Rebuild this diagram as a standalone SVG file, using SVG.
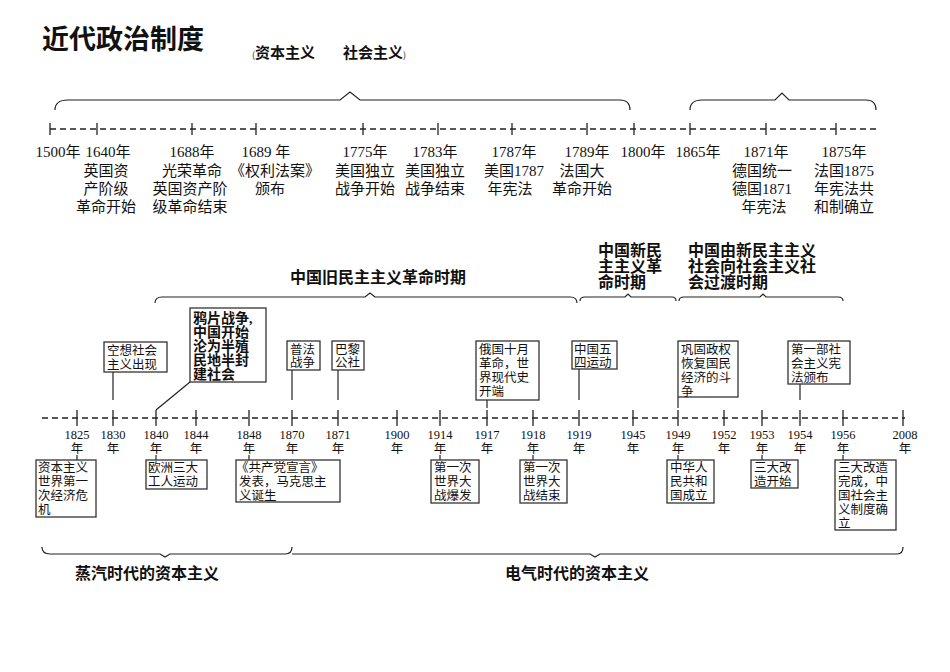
<svg xmlns="http://www.w3.org/2000/svg" width="950" height="672" viewBox="0 0 950 672">
<style>
text{font-family:"Liberation Serif","Noto Sans CJK SC",serif;fill:#111}
.t{font-size:15px}
.s{font-size:12.5px}
.m{font-size:16px;font-weight:bold}
.ax{stroke:#222;stroke-width:1.3;stroke-dasharray:6,4;fill:none}
.tk{stroke:#222;stroke-width:1.3}
.ln{stroke:#222;stroke-width:1.2;fill:none}
.bx{fill:#fff;stroke:#333;stroke-width:1.3}
</style>
<rect width="950" height="672" fill="#fff"/>
<text x="42" y="49" style="font-family:'Noto Sans CJK SC',sans-serif;font-size:27px;font-weight:bold">近代政治制度</text>
<text x="252" y="58" style="font-family:'Noto Sans CJK SC',sans-serif;font-size:15px;font-weight:bold"><tspan font-size="9px" font-weight="normal">(</tspan>资本主义<tspan dx="28">社会主义</tspan><tspan font-size="9px" font-weight="normal">)</tspan></text>
<g id="connectors">
<path class="ln" d="M55,110 Q55,100 68,100 L340,100 L350,92 L360,100 L620,100 Q630,100 630,110"/>
<path class="ln" d="M690,110 Q690,100 702,100 L775,100 L782,93 L789,100 L866,100 Q876,100 876,110"/>
<line class="ax" x1="50" y1="129" x2="876" y2="129"/>
<g class="tk"><line x1="50" y1="123" x2="50" y2="135"/><line x1="97" y1="123" x2="97" y2="135"/><line x1="192" y1="123" x2="192" y2="135"/><line x1="256" y1="123" x2="256" y2="135"/><line x1="363" y1="123" x2="363" y2="135"/><line x1="438" y1="123" x2="438" y2="135"/><line x1="512" y1="123" x2="512" y2="135"/><line x1="587" y1="123" x2="587" y2="135"/><line x1="634" y1="123" x2="634" y2="135"/><line x1="690" y1="123" x2="690" y2="135"/><line x1="766" y1="123" x2="766" y2="135"/><line x1="836" y1="123" x2="836" y2="135"/></g>
<path class="ln" d="M155,303 Q155,297 162,297 L365,297 L370,293 L375,297 L570,297 Q577,297 577,303"/>
<path class="ln" d="M580,301 Q580,297 585,297 L625,297 L628,294 L631,297 L672,297 Q676,297 676,301"/>
<path class="ln" d="M679,301 Q679,297 684,297 L760,297 L763,294 L766,297 L838,297 Q843,297 843,301"/>
<line class="ax" x1="42" y1="418" x2="905" y2="418"/>
<g class="tk"><line x1="77" y1="410" x2="77" y2="426"/><line x1="113" y1="410" x2="113" y2="426"/><line x1="156" y1="410" x2="156" y2="426"/><line x1="196" y1="410" x2="196" y2="426"/><line x1="249" y1="410" x2="249" y2="426"/><line x1="292" y1="410" x2="292" y2="426"/><line x1="338" y1="410" x2="338" y2="426"/><line x1="397" y1="410" x2="397" y2="426"/><line x1="440" y1="410" x2="440" y2="426"/><line x1="487" y1="410" x2="487" y2="426"/><line x1="533" y1="410" x2="533" y2="426"/><line x1="579" y1="410" x2="579" y2="426"/><line x1="633" y1="410" x2="633" y2="426"/><line x1="678" y1="410" x2="678" y2="426"/><line x1="724" y1="410" x2="724" y2="426"/><line x1="762" y1="410" x2="762" y2="426"/><line x1="800" y1="410" x2="800" y2="426"/><line x1="843" y1="410" x2="843" y2="426"/><line x1="903" y1="410" x2="903" y2="426"/></g>
<line class="ln" x1="113" y1="372" x2="113" y2="400"/>
<line class="ln" x1="190" y1="382" x2="156" y2="410"/>
<line class="ln" x1="292" y1="370" x2="292" y2="400"/>
<line class="ln" x1="338" y1="370" x2="338" y2="400"/>
<line class="ln" x1="487" y1="400" x2="487" y2="408"/>
<line class="ln" x1="579" y1="369" x2="579" y2="400"/>
<line class="ln" x1="678" y1="397" x2="678" y2="408"/>
<line class="ln" x1="800" y1="384" x2="800" y2="400"/>
<g class="ln"><line x1="77" y1="455" x2="77" y2="460"/><line x1="156" y1="455" x2="156" y2="460"/><line x1="249" y1="455" x2="249" y2="460"/><line x1="440" y1="455" x2="440" y2="460"/><line x1="533" y1="455" x2="533" y2="460"/><line x1="678" y1="455" x2="678" y2="460"/><line x1="762" y1="455" x2="762" y2="460"/><line x1="843" y1="455" x2="843" y2="460"/></g>
<path class="ln" d="M42,547 Q42,554 50,554 L160,554 L165,557 L170,554 L285,554 Q292,554 292,547"/>
<path class="ln" d="M292,554 L590,554 L595,557 L600,554 L897,554 Q903,554 903,547"/>
</g>
<g id="top-labels" class="t" text-anchor="middle">
<text x="58" y="157">1500年</text><text x="108" y="157">1640年</text>
<text x="106" y="176">英国资</text><text x="106" y="194">产阶级</text><text x="106" y="212">革命开始</text>
<text x="192" y="157">1688年</text><text x="192" y="176">光荣革命</text><text x="190" y="194">英国资产阶</text><text x="190" y="212">级革命结束</text>
<text x="266" y="157">1689 年</text><text x="275" y="176">《权利法案》</text><text x="270" y="194">颁布</text>
<text x="365" y="157">1775年</text><text x="365" y="176">美国独立</text><text x="365" y="194">战争开始</text>
<text x="435" y="157">1783年</text><text x="435" y="176">美国独立</text><text x="435" y="194">战争结束</text>
<text x="514" y="157">1787年</text><text x="514" y="176">美国1787</text><text x="510" y="194">年宪法</text>
<text x="587" y="157">1789年</text><text x="582" y="176">法国大</text><text x="582" y="194">革命开始</text>
<text x="643" y="157">1800年</text><text x="698" y="157">1865年</text>
<text x="766" y="157">1871年</text><text x="762" y="176">德国统一</text><text x="762" y="194">德国1871</text><text x="764" y="212">年宪法</text>
<text x="844" y="157">1875年</text><text x="844" y="176">法国1875</text><text x="844" y="194">年宪法共</text><text x="844" y="212">和制确立</text>
</g>
<g id="periods" class="m">
<text x="290" y="283">中国旧民主主义革命时期</text>
<text x="598" y="256">中国新民</text><text x="598" y="272">主主义革</text><text x="598" y="288">命时期</text>
<text x="688" y="256">中国由新民主主义</text><text x="688" y="272">社会向社会主义社</text><text x="688" y="288">会过渡时期</text>
<text x="75" y="579">蒸汽时代的资本主义</text>
<text x="505" y="579">电气时代的资本主义</text>
</g>
<g id="years" class="s" text-anchor="middle">
<text x="77" y="439">1825</text><text x="77" y="453">年</text>
<text x="113" y="439">1830</text><text x="113" y="453">年</text>
<text x="156" y="439">1840</text><text x="156" y="453">年</text>
<text x="196" y="439">1844</text><text x="196" y="453">年</text>
<text x="249" y="439">1848</text><text x="249" y="453">年</text>
<text x="292" y="439">1870</text><text x="292" y="453">年</text>
<text x="338" y="439">1871</text><text x="338" y="453">年</text>
<text x="397" y="439">1900</text><text x="397" y="453">年</text>
<text x="440" y="439">1914</text><text x="440" y="453">年</text>
<text x="487" y="439">1917</text><text x="487" y="453">年</text>
<text x="533" y="439">1918</text><text x="533" y="453">年</text>
<text x="579" y="439">1919</text><text x="579" y="453">年</text>
<text x="633" y="439">1945</text><text x="633" y="453">年</text>
<text x="678" y="439">1949</text><text x="678" y="453">年</text>
<text x="724" y="439">1952</text><text x="724" y="453">年</text>
<text x="762" y="439">1953</text><text x="762" y="453">年</text>
<text x="800" y="439">1954</text><text x="800" y="453">年</text>
<text x="843" y="439">1956</text><text x="843" y="453">年</text>
<text x="905" y="439">2008</text><text x="905" y="453">年</text>
</g>
<g id="n-kongxiang" class="s"><rect class="bx" x="104" y="342" width="63" height="30"/><text x="107" y="355">空想社会</text><text x="107" y="369">主义出现</text></g>
<g id="n-yapian"><rect class="bx" x="190" y="308" width="76" height="74"/><text x="193" y="323" class="m" style="font-size:14px">鸦片战争,</text><text x="193" y="337" class="m" style="font-size:14px">中国开始</text><text x="193" y="351" class="m" style="font-size:14px">沦为半殖</text><text x="193" y="365" class="m" style="font-size:14px">民地半封</text><text x="193" y="379" class="m" style="font-size:14px">建社会</text></g>
<g id="n-pufa" class="s"><rect class="bx" x="287" y="341" width="33" height="29"/><text x="290" y="354">普法</text><text x="290" y="367">战争</text></g>
<g id="n-bali" class="s"><rect class="bx" x="332" y="341" width="32" height="29"/><text x="335" y="354">巴黎</text><text x="335" y="367">公社</text></g>
<g id="n-eguo" class="s"><rect class="bx" x="476" y="341" width="63" height="59"/><text x="479" y="354">俄国十月</text><text x="479" y="368">革命，世</text><text x="479" y="382">界现代史</text><text x="479" y="396">开端</text></g>
<g id="n-wusi" class="s"><rect class="bx" x="572" y="341" width="45" height="28"/><text x="574" y="354">中国五</text><text x="574" y="367">四运动</text></g>
<g id="n-gonggu" class="s"><rect class="bx" x="678" y="341" width="60" height="56"/><text x="681" y="354">巩固政权</text><text x="681" y="368">恢复国民</text><text x="681" y="382">经济的斗</text><text x="681" y="396">争</text></g>
<g id="n-xianfa" class="s"><rect class="bx" x="788" y="341" width="62" height="43"/><text x="791" y="354">第一部社</text><text x="791" y="368">会主义宪</text><text x="791" y="382">法颁布</text></g>
<g id="n-weiji" class="s"><rect class="bx" x="36" y="460" width="60" height="57"/><text x="38" y="472">资本主义</text><text x="38" y="486">世界第一</text><text x="38" y="500">次经济危</text><text x="38" y="514">机</text></g>
<g id="n-ouzhou" class="s"><rect class="bx" x="146" y="460" width="61" height="29"/><text x="148" y="472">欧洲三大</text><text x="148" y="486">工人运动</text></g>
<g id="n-xuanyan" class="s"><rect class="bx" x="236" y="460" width="104" height="42"/><text x="236" y="472">《共产党宣言》</text><text x="239" y="486">发表，马克思主</text><text x="239" y="500">义诞生</text></g>
<g id="n-yizhan1" class="s"><rect class="bx" x="431" y="460" width="48" height="43"/><text x="434" y="472">第一次</text><text x="434" y="486">世界大</text><text x="434" y="500">战爆发</text></g>
<g id="n-yizhan2" class="s"><rect class="bx" x="520" y="460" width="47" height="43"/><text x="523" y="472">第一次</text><text x="523" y="486">世界大</text><text x="523" y="500">战结束</text></g>
<g id="n-prc" class="s"><rect class="bx" x="667" y="460" width="47" height="43"/><text x="670" y="472">中华人</text><text x="670" y="486">民共和</text><text x="670" y="500">国成立</text></g>
<g id="n-gaizao1" class="s"><rect class="bx" x="751" y="460" width="47" height="28"/><text x="754" y="472">三大改</text><text x="754" y="486">造开始</text></g>
<g id="n-gaizao2" class="s"><rect class="bx" x="835" y="460" width="61" height="70"/><text x="838" y="472">三大改造</text><text x="838" y="486">完成，中</text><text x="838" y="500">国社会主</text><text x="838" y="514">义制度确</text><text x="838" y="528">立</text></g>
</svg>
